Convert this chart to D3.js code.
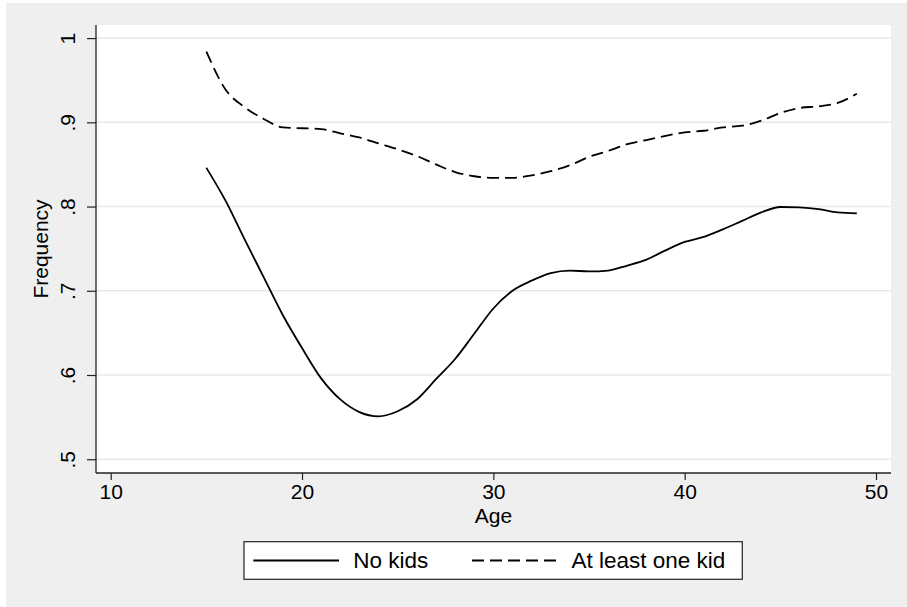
<!DOCTYPE html>
<html>
<head>
<meta charset="utf-8">
<script src="https://cdn.jsdelivr.net/npm/d3@7"></script>
<style>
  html, body { margin: 0; padding: 0; background: #ffffff; }
  svg { display: block; font-family: "Liberation Sans", Arial, sans-serif; }
</style>
</head>
<body>
<svg id="chart" width="907" height="607"></svg>
<script>
// Age in years
const ages = [15,16,17,18,19,20,21,22,23,24,25,26,27,28,29,30,31,32,33,34,35,36,37,38,39,40,41,42,43,44,45,46,47,48,49];
// Frequency for women with no kids
const noKids = [0.846,0.807,0.761,0.716,0.671,0.632,0.596,0.571,0.556,0.551,0.557,0.571,0.595,0.619,0.649,0.679,0.700,0.712,0.721,0.724,0.723,0.724,0.730,0.737,0.748,0.758,0.764,0.773,0.783,0.793,0.7995,0.799,0.797,0.793,0.792];
// Frequency for women with at least one kid
const atLeastOne = [0.984,0.939,0.918,0.904,0.894,0.893,0.892,0.887,0.882,0.875,0.868,0.860,0.850,0.841,0.836,0.834,0.834,0.837,0.842,0.849,0.859,0.866,0.874,0.879,0.884,0.888,0.890,0.894,0.896,0.902,0.911,0.917,0.919,0.923,0.934];

const xTicks = [10,20,30,40,50];
const yTicks = [0.5,0.6,0.7,0.8,0.9,1];
const yTickLabels = [".5",".6",".7",".8",".9","1"];
const seriesNames = ["No kids","At least one kid"];

const svg = d3.select("#chart");
const FS = 21;     // axis text size
const LFS = 22.5;  // legend text size

// outer graph region
svg.append("rect").attr("x", 6).attr("y", 3).attr("width", 901).attr("height", 604).attr("fill", "#efefef");

// plot region
const plot = {left: 96, right: 891, top: 25, bottom: 473};
svg.append("rect").attr("x", plot.left).attr("y", plot.top)
  .attr("width", plot.right - plot.left).attr("height", plot.bottom - plot.top).attr("fill", "#ffffff");

const x = d3.scaleLinear().domain([10, 50]).range([110.7, 876]);
const y = d3.scaleLinear().domain([0.5, 1]).range([459.25, 38.1]);

// horizontal gridlines
svg.append("g").selectAll("line").data(yTicks).join("line")
  .attr("x1", plot.left).attr("x2", plot.right)
  .attr("y1", d => y(d)).attr("y2", d => y(d))
  .attr("stroke", "#e8e8e8").attr("stroke-width", 1.5);

// y axis
const yAxis = d3.axisLeft(y).tickValues(yTicks)
  .tickFormat((d, i) => yTickLabels[i]).tickSize(9).tickPadding(0);
const gy = svg.append("g").attr("transform", `translate(${plot.left},0)`).call(yAxis);
gy.select(".domain").attr("d", `M0,${plot.top}V${plot.bottom}`).attr("stroke", "#222").attr("stroke-width", 1.3);
gy.selectAll(".tick line").attr("stroke", "#222").attr("stroke-width", 1.2);
gy.selectAll(".tick text")
  .attr("font-size", FS).attr("fill", "#000").attr("font-family", "Liberation Sans, Arial, sans-serif")
  .attr("x", 0).attr("dy", null).attr("text-anchor", "middle")
  .attr("transform", "translate(-21,0) rotate(-90)")
  .attr("y", 0);

// x axis
const xAxis = d3.axisBottom(x).tickValues(xTicks).tickSize(7).tickPadding(4);
const gx = svg.append("g").attr("transform", `translate(0,${plot.bottom})`).call(xAxis);
gx.select(".domain").attr("d", `M${plot.left},0H${plot.right}`).attr("stroke", "#222").attr("stroke-width", 1.3);
gx.selectAll(".tick line").attr("stroke", "#222").attr("stroke-width", 1.2);
gx.selectAll(".tick text")
  .attr("font-size", FS).attr("fill", "#000").attr("font-family", "Liberation Sans, Arial, sans-serif");

// axis titles
svg.append("text").attr("x", (plot.left + plot.right) / 2).attr("y", 522.5)
  .attr("text-anchor", "middle").attr("font-size", FS).text("Age");
svg.append("text").attr("transform", `translate(48,${(plot.top + plot.bottom) / 2}) rotate(-90)`)
  .attr("text-anchor", "middle").attr("font-size", FS).text("Frequency");

// series lines
const line = d3.line().x(d => x(d[0])).y(d => y(d[1])).curve(d3.curveMonotoneX);
svg.append("path").datum(ages.map((a, i) => [a, noKids[i]]))
  .attr("d", line).attr("fill", "none").attr("stroke", "#000").attr("stroke-width", 1.8)
  .attr("stroke-linejoin", "round");
svg.append("path").datum(ages.map((a, i) => [a, atLeastOne[i]]))
  .attr("d", line).attr("fill", "none").attr("stroke", "#000").attr("stroke-width", 1.8)
  .attr("stroke-dasharray", "12,6");

// legend
const lg = svg.append("g");
lg.append("rect").attr("x", 244).attr("y", 541.7).attr("width", 498.3).attr("height", 37.6)
  .attr("fill", "#ffffff").attr("stroke", "#222").attr("stroke-width", 1.2);
const keys = [
  {name: seriesNames[0], x0: 253.3, dash: null, tx: 353.3},
  {name: seriesNames[1], x0: 472, dash: "12,6", tx: 571.5}
];
keys.forEach(k => {
  lg.append("line").attr("x1", k.x0).attr("x2", k.x0 + 85.7).attr("y1", 560.5).attr("y2", 560.5)
    .attr("stroke", "#000").attr("stroke-width", 1.8).attr("stroke-dasharray", k.dash);
  lg.append("text").attr("x", k.tx).attr("y", 567.5).attr("font-size", LFS).text(k.name);
});
</script>
</body>
</html>
